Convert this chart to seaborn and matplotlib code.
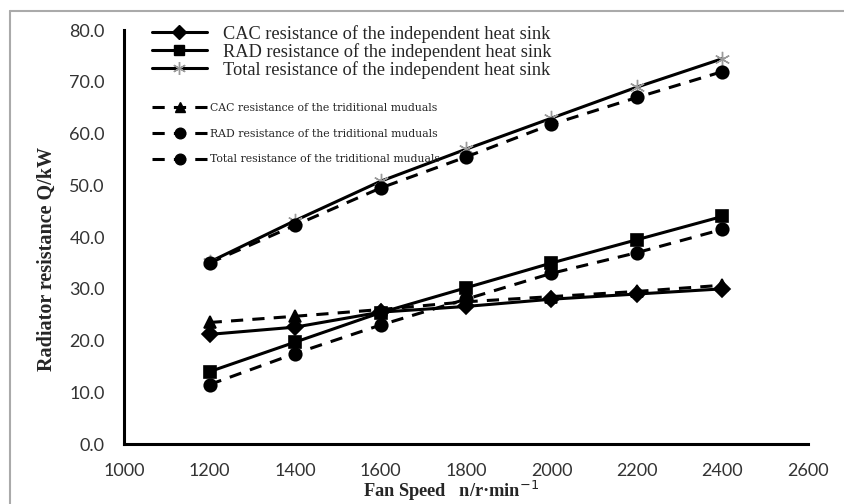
import pandas as pd
import matplotlib.pyplot as plt
import seaborn as sns
from matplotlib.lines import Line2D

# fan speed (n/r·min-1)
speed = [1200, 1400, 1600, 1800, 2000, 2200, 2400]

# independent heat sink
cac_ind = [21.2, 22.6, 25.5, 26.6, 28.0, 29.0, 30.0]
rad_ind = [14.0, 19.7, 25.4, 30.2, 35.0, 39.5, 44.0]
tot_ind = [35.2, 43.2, 50.8, 57.0, 63.0, 69.0, 74.5]

# traditional modules
cac_trad = [23.5, 24.7, 26.0, 27.5, 28.5, 29.5, 30.7]
rad_trad = [11.5, 17.5, 23.0, 28.0, 33.0, 37.0, 41.5]
tot_trad = [35.0, 42.3, 49.5, 55.5, 61.8, 67.0, 72.0]

labels = [
    "CAC resistance of the independent heat sink",
    "RAD resistance of the independent heat sink",
    "Total resistance of the independent heat sink",
    "CAC resistance of the triditional muduals",
    "RAD resistance of the triditional muduals",
    "Total resistance of the triditional muduals",
]

sns.set_style("white")
plt.rcParams['font.family'] = ['Liberation Serif', 'DejaVu Serif']

fig = plt.figure(figsize=(8.45, 5.04), dpi=100)
ax = fig.add_axes([0.147, 0.119, 0.809, 0.821])

series = [
    (cac_ind, "D", "-", "black", 8),
    (rad_ind, "s", "-", "black", 9),
    (tot_ind, (6, 2, 0), "-", "#9a9a9a", 11),
    (cac_trad, "^", (0, (4, 3)), "black", 9),
    (rad_trad, "o", (0, (4, 3)), "black", 9),
    (tot_trad, "o", (0, (4, 3)), "black", 9),
]

handles = []
for vals, mk, ls, mc, ms in series:
    df = pd.DataFrame({"speed": speed, "val": vals})
    sns.lineplot(data=df, x="speed", y="val", ax=ax, color="black",
                 marker=mk, linestyle=ls, linewidth=2.2, markersize=ms,
                 markeredgecolor=mc, markerfacecolor="black",
                 markeredgewidth=1.2 if mc == "black" else 1.0)
    handles.append(Line2D([], [], color="black", linestyle=ls, linewidth=2.2,
                          marker=mk, markersize=ms * 0.85,
                          markeredgecolor=mc, markerfacecolor="black"))

ax.set_xlim(1000, 2600)
ax.set_ylim(0, 80)
ax.set_xticks(range(1000, 2601, 200))
ax.set_yticks(range(0, 81, 10))
ax.set_yticklabels([f"{v:.1f}" for v in range(0, 81, 10)])

for s in ["top", "right"]:
    ax.spines[s].set_visible(False)
for s in ["left", "bottom"]:
    ax.spines[s].set_linewidth(2.2)
    ax.spines[s].set_color("black")

ax.tick_params(axis="both", direction="in", length=5, width=1.8,
               labelsize=13, colors="black", labelcolor="#333333")
ax.tick_params(axis="y", pad=14)
ax.tick_params(axis="x", pad=14)
for t in ax.get_xticklabels() + ax.get_yticklabels():
    t.set_family("Lato")

ax.set_xlabel("Fan Speed   n/r·min$^{-1}$", fontsize=13.2, fontweight="bold")
ax.xaxis.set_label_coords(0.478, -0.085)
ax.set_ylabel("Radiator resistance Q/kW", fontsize=14.5, fontweight="bold")
ax.yaxis.set_label_coords(-0.113, 0.447)
ax.yaxis.label.set_va("center")

leg1 = ax.legend(handles[:3], labels[:3], loc="upper left",
                 bbox_to_anchor=(152 / 845, 1 - 25 / 504),
                 bbox_transform=fig.transFigure, frameon=False,
                 prop={"family": "Liberation Serif", "size": 13.2},
                 handlelength=3.0, handletextpad=0.9, labelspacing=0.0,
                 borderpad=0, borderaxespad=0)
ax.add_artist(leg1)
ax.legend(handles[3:], labels[3:], loc="upper left",
          bbox_to_anchor=(152 / 845, 1 - 103 / 504),
          bbox_transform=fig.transFigure, frameon=False,
          prop={"family": "DejaVu Serif", "size": 7.8},
          handlelength=5.1, handletextpad=0.3, labelspacing=1.45,
          borderpad=0, borderaxespad=0)

# grey frame of the original picture
fig.add_artist(Line2D([10 / 845, 10 / 845], [0, 1 - 11 / 504],
                      transform=fig.transFigure, color="#aaaaaa", lw=1.5))
fig.add_artist(Line2D([10 / 845, 1], [1 - 11 / 504, 1 - 11 / 504],
                      transform=fig.transFigure, color="#aaaaaa", lw=1.5))

fig.savefig("out.png", dpi=100)
